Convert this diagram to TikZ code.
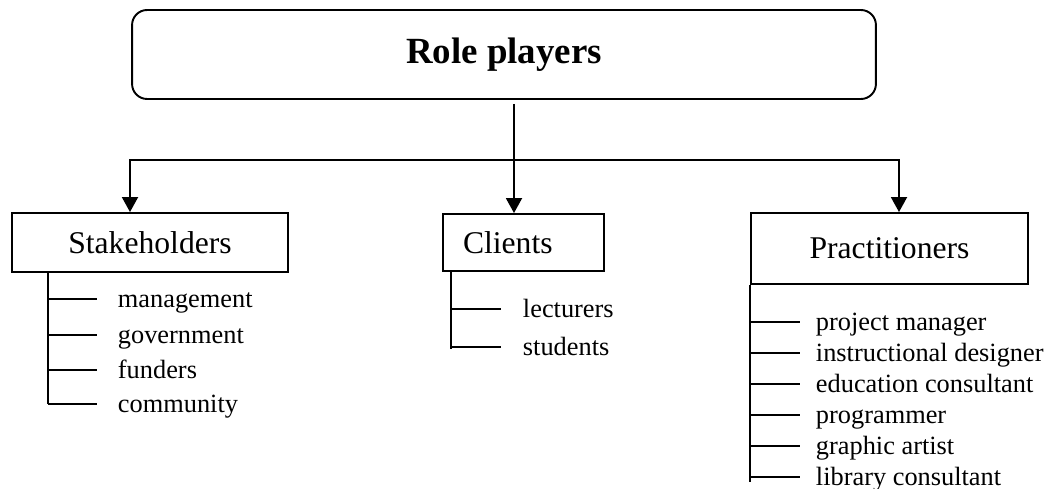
\documentclass[tikz,border=0pt]{standalone}
\usepackage{fontspec}
\setmainfont{Liberation Serif}
\usetikzlibrary{arrows.meta}

\tikzset{
  boxnode/.style={draw, inner sep=0pt, font=\fontsize{18}{21}\selectfont},
  item/.style={inner sep=0pt, anchor=west, text height=2ex, text depth=0pt,
    font=\fontsize{15}{18}\selectfont},
  arr/.style={-{Triangle[length=0.3cm,width=0.32cm]}}
}

\begin{document}
\begin{tikzpicture}[x=0.02cm, y=-0.02cm, line width=1.1pt]
\useasboundingbox (0,0) rectangle (1048,489);

% top box
\node[boxnode, rounded corners=0.3cm, minimum width=14.88cm, minimum height=1.78cm,
  text height=1em, text depth=0pt,
  font=\fontsize{21}{25}\selectfont\bfseries] (role) at (504,54.5) {Role players};

% three groups
\node[boxnode, minimum width=5.52cm, minimum height=1.18cm] (stake) at (150,242.5) {Stakeholders};
\node[boxnode, text width=2.42cm, align=left, inner xsep=0.4cm, minimum height=1.14cm] (clients) at (523.5,242.5) {Clients};
\node[boxnode, minimum width=5.54cm, minimum height=1.42cm] (pract) at (889.5,248.5) {Practitioners};

% branches
\coordinate (hub) at (514,160);
\coordinate (hubL) at (130,160);
\coordinate (hubR) at (899,160);
\draw[arr, shorten <=0.08cm] (role.south -| hub) -- (hub |- clients.north);
\draw[arr] (hub) -| (hubL |- stake.north);
\draw[arr] (hub) -| (hubR |- pract.north);

% stakeholders list
\node[item] (s1) at (117,299) {management};
\node[item] (s2) at (117,335) {government};
\node[item] (s3) at (117,370) {funders};
\node[item] (s4) at (117,404) {community};
\draw ([xshift=0.74cm]stake.south west) coordinate (sroot) -- (sroot |- s4.west);
\foreach \n in {s1,s2,s3,s4}
  \draw (sroot |- \n.west) -- ([xshift=-0.4cm]\n.west);

% clients list
\node[item] (c1) at (522,309) {lecturers};
\node[item] (c2) at (522,347) {students};
\draw ([xshift=0.18cm]clients.south west) coordinate (croot) -- ([yshift=-0.04cm]croot |- c2.west);
\foreach \n in {c1,c2}
  \draw (croot |- \n.west) -- ([xshift=-0.42cm]\n.west);

% practitioners list
\node[item] (p1) at (815,322) {project manager};
\node[item] (p2) at (815,353) {instructional designer};
\node[item] (p3) at (815,384) {education consultant};
\node[item] (p4) at (815,415) {programmer};
\node[item] (p5) at (815,446) {graphic artist};
\node[item] (p6) at (815,477) {library consultant};
\draw (pract.south west) coordinate (proot) -- ([yshift=-0.1cm]proot |- p6.west);
\foreach \n in {p1,p2,p3,p4,p5,p6}
  \draw (proot |- \n.west) -- ([xshift=-0.3cm]\n.west);
\end{tikzpicture}
\end{document}
